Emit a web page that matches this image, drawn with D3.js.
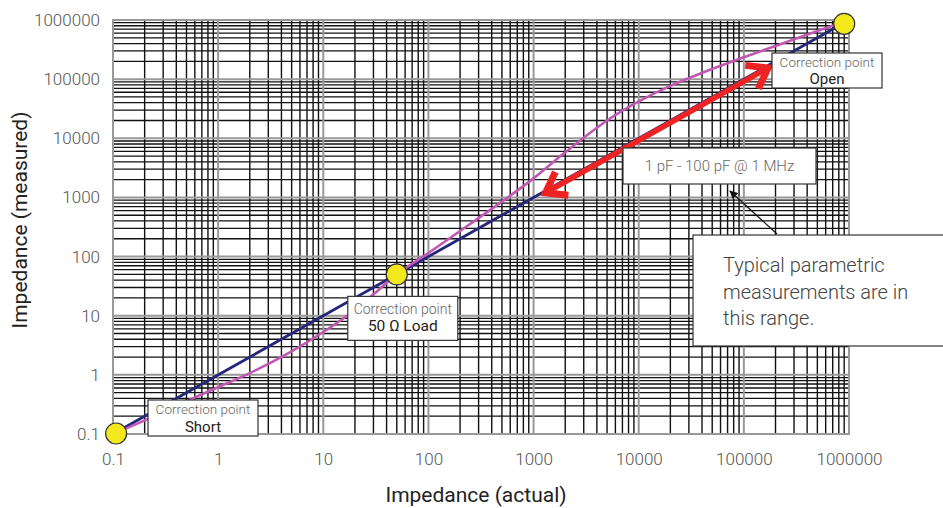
<!DOCTYPE html>
<html>
<head>
<meta charset="utf-8">
<script src="https://cdn.jsdelivr.net/npm/d3@7"></script>
<style>
  html, body { margin: 0; padding: 0; background: #fff; }
  svg { display: block; }
  text { font-family: Roboto, "Noto Sans", sans-serif; }
</style>
</head>
<body>
<svg id="chart" width="943" height="508"></svg>
<script>
// ---- data ----
const xTickValues = [0.1, 1, 10, 100, 1000, 10000, 100000, 1000000];
const xTickLabels = ["0.1", "1", "10", "100", "1000", "10000", "100000", "1000000"];
const yTickValues = [0.1, 1, 10, 100, 1000, 10000, 100000, 1000000];
const yTickLabels = ["0.1", "1", "10", "100", "1000", "10000", "100000", "1000000"];

const idealActual = [0.1, 1000000];
const idealMeasured = [0.1, 1000000];

const measActual = [0.1, 0.2, 0.5, 1, 2, 5, 10, 20, 30, 50, 100, 200, 500, 1000, 2000, 5000, 10000, 20000, 50000, 100000, 200000, 500000, 1000000];
const measMeasured = [0.1, 0.17, 0.36, 0.62, 1.07, 2.5, 5.3, 12.5, 23, 50, 115, 271, 850, 2100, 5800, 20000, 42000, 77000, 149000, 235000, 364000, 652000, 1000000];

const corrNames = ["Short", "50 Ω Load", "Open"];
const corrActual = [0.107, 50, 900000];
const corrMeasured = [0.102, 50, 860000];

const rangeArrowActual = [1300, 170000];
const rangeArrowMeasured = [1200, 155000];

// ---- layout ----
const svg = d3.select("#chart");
const pL = 113, pR = 849, pT = 20, pB = 434;
const x = d3.scaleLog().domain([0.1, 1000000]).range([pL, pR]);
const y = d3.scaleLog().domain([0.1, 1000000]).range([pB, pT]);

// grid
const minor = [];
for (let d = -1; d <= 5; d++) for (let k = 2; k <= 9; k++) minor.push(k * Math.pow(10, d));
const g = svg.append("g");
g.selectAll(".vmin").data(minor).enter().append("line")
  .attr("x1", d => x(d)).attr("x2", d => x(d)).attr("y1", pT).attr("y2", pB)
  .attr("stroke", "#111").attr("stroke-width", 1.4);
g.selectAll(".hmin").data(minor).enter().append("line")
  .attr("y1", d => y(d)).attr("y2", d => y(d)).attr("x1", pL).attr("x2", pR)
  .attr("stroke", "#111").attr("stroke-width", 1.3);
g.selectAll(".vmaj").data(xTickValues).enter().append("line")
  .attr("x1", d => x(d)).attr("x2", d => x(d)).attr("y1", pT).attr("y2", pB)
  .attr("stroke", "#999").attr("stroke-width", 2);
g.selectAll(".hmaj").data(yTickValues).enter().append("line")
  .attr("y1", d => y(d)).attr("y2", d => y(d)).attr("x1", pL).attr("x2", pR)
  .attr("stroke", "#999").attr("stroke-width", 2);
g.append("rect").attr("x", pL).attr("y", pT).attr("width", pR - pL).attr("height", pB - pT)
  .attr("fill", "none").attr("stroke", "#999").attr("stroke-width", 2);

// axes via d3 axis (labels only)
const xAxis = d3.axisBottom(x).tickValues(xTickValues).tickFormat((d, i) => xTickLabels[i]).tickSize(0).tickPadding(19);
const yAxis = d3.axisLeft(y).tickValues(yTickValues).tickFormat((d, i) => yTickLabels[i]).tickSize(0).tickPadding(13);
const gx = svg.append("g").attr("transform", `translate(0,${pB})`).call(xAxis);
const gy = svg.append("g").attr("transform", `translate(${pL},0)`).call(yAxis);
[gx, gy].forEach(a => {
  a.select(".domain").remove();
  a.selectAll("text").attr("font-family", "Roboto, sans-serif").attr("font-weight", 300)
    .attr("font-size", 17).attr("fill", "#555");
});

// axis titles
svg.append("text").attr("x", 476).attr("y", 502).attr("text-anchor", "middle")
  .attr("font-size", 21).attr("fill", "#222").text("Impedance (actual)");
svg.append("text").attr("transform", "translate(27,220) rotate(-90)").attr("text-anchor", "middle")
  .attr("font-size", 21).attr("fill", "#222").text("Impedance (measured)");

// lines
const line = d3.line().x(d => x(d[0])).y(d => y(d[1]));
svg.append("path").datum(idealActual.map((a, i) => [a, idealMeasured[i]]))
  .attr("d", line).attr("fill", "none").attr("stroke", "#26277a").attr("stroke-width", 2.8);
svg.append("path").datum(measActual.map((a, i) => [a, measMeasured[i]]))
  .attr("d", line.curve(d3.curveCatmullRom.alpha(0.5))).attr("fill", "none").attr("stroke", "#c258b4").attr("stroke-width", 2.6);

// red double arrow
const p1 = [x(rangeArrowActual[0]), y(rangeArrowMeasured[0])];
const p2 = [x(rangeArrowActual[1]), y(rangeArrowMeasured[1])];
const red = "#ee2424";
svg.append("line").attr("x1", p1[0]).attr("y1", p1[1]).attr("x2", p2[0]).attr("y2", p2[1])
  .attr("stroke", red).attr("stroke-width", 5.5);
function chevron(tip, from) {
  const ang = Math.atan2(from[1] - tip[1], from[0] - tip[0]);
  const L = 23, a = 0.62;
  const q1 = [tip[0] + L * Math.cos(ang + a), tip[1] + L * Math.sin(ang + a)];
  const q2 = [tip[0] + L * Math.cos(ang - a), tip[1] + L * Math.sin(ang - a)];
  svg.append("path").attr("d", `M${q1}L${tip}L${q2}`).attr("fill", "none")
    .attr("stroke", red).attr("stroke-width", 7).attr("stroke-linejoin", "miter");
}
chevron(p1, p2);
chevron(p2, p1);

// callout boxes
function box(x0, y0, w, h, lines) {
  svg.append("rect").attr("x", x0).attr("y", y0).attr("width", w).attr("height", h)
    .attr("fill", "#fff").attr("stroke", "#333").attr("stroke-width", 1.2);
  lines.forEach(l => {
    svg.append("text").attr("x", x0 + (l.dx !== undefined ? l.dx : w / 2)).attr("y", y0 + l.dy)
      .attr("text-anchor", l.anchor || "middle").attr("font-size", l.size).attr("font-weight", l.weight || 300)
      .attr("fill", l.color).text(l.text);
  });
}
const cx = corrActual.map(x), cy = corrMeasured.map(y);
// Short
box(x(0.1) + 35, y(0.1) - 34, 110, 36, [
  { text: "Correction point", dy: 14, size: 13.5, color: "#666" },
  { text: corrNames[0], dy: 31.5, size: 15, color: "#222", weight: 400 }]);
// 50 ohm
box(x(50) - 49, y(50) + 22, 110, 44, [
  { text: "Correction point", dy: 18, size: 14, color: "#666" },
  { text: corrNames[1], dy: 35, size: 15.5, color: "#222", weight: 400 }]);
// Open
box(x(1000000) - 77, y(1000000) + 33, 110, 35, [
  { text: "Correction point", dy: 13.5, size: 13.5, color: "#666" },
  { text: corrNames[2], dy: 31, size: 15, color: "#222", weight: 400 }]);
// range box
box(623, 148, 193, 36, [{ text: "1 pF - 100 pF @ 1 MHz", dy: 23, size: 15, color: "#666" }]);

// pointer from note to range box
svg.append("defs").append("marker").attr("id", "tri").attr("viewBox", "0 0 10 10")
  .attr("refX", 9).attr("refY", 5).attr("markerWidth", 7).attr("markerHeight", 7).attr("orient", "auto")
  .append("path").attr("d", "M0,0L10,5L0,10z").attr("fill", "#111");
svg.append("line").attr("x1", 777).attr("y1", 234).attr("x2", 730).attr("y2", 191)
  .attr("stroke", "#111").attr("stroke-width", 1.2).attr("marker-end", "url(#tri)");

// big note
box(693, 235, 260, 111, [
  { text: "Typical parametric", dx: 30, anchor: "start", dy: 37, size: 20, color: "#444" },
  { text: "measurements are in", dx: 30, anchor: "start", dy: 64, size: 20, color: "#444" },
  { text: "this range.", dx: 30, anchor: "start", dy: 90, size: 20, color: "#444" }]);

// correction points
svg.selectAll(".cp").data(corrNames).enter().append("circle")
  .attr("cx", (d, i) => cx[i]).attr("cy", (d, i) => cy[i]).attr("r", 10.5)
  .attr("fill", "#f2e81c").attr("stroke", "#333").attr("stroke-width", 1.2);
</script>
</body>
</html>
